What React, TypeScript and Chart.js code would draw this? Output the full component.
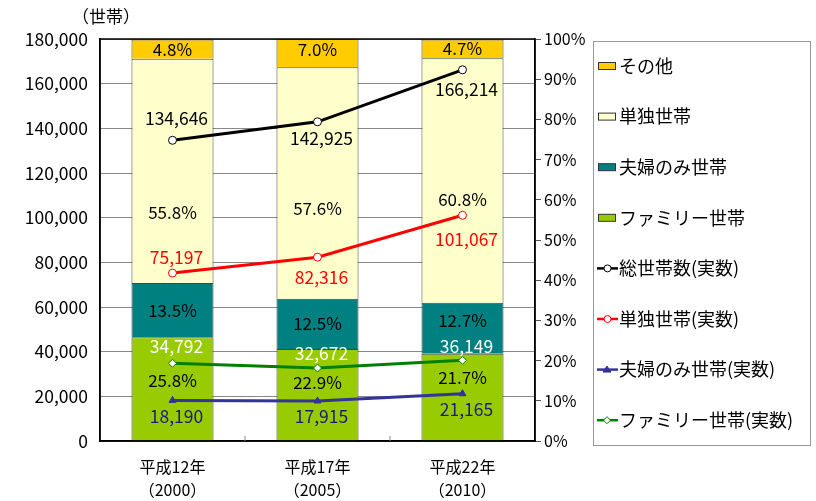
import React, { useEffect, useRef } from "react";
import { Chart, registerables } from "chart.js";

Chart.register(...registerables);

const categories = [
  ["平成12年", "（2000）"],
  ["平成17年", "（2005）"],
  ["平成22年", "（2010）"],
];
const familyPct = [25.8, 22.9, 21.7];
const couplePct = [13.5, 12.5, 12.7];
const singlePct = [55.8, 57.6, 60.8];
const otherPct = [4.8, 7.0, 4.7];

const totalHouseholds = [134646, 142925, 166214];
const singleHouseholds = [75197, 82316, 101067];
const coupleHouseholds = [18190, 17915, 21165];
const familyHouseholds = [34792, 32672, 36149];

const FONT = "'Noto Sans CJK JP', 'Noto Sans', sans-serif";

// style-only: vertical offsets of labels (px)
const pctLabelDy: Record<string, number[]> = {
  family: [-8, -12, -20],
  couple: [0, 0, -8],
  single: [42, 26, 19],
  other: [0, -4, 0],
};
const lineLabelDy: Record<string, number[]> = {
  total: [-22, 17, 20],
  single: [-16, 20, 24],
  family: [-17, -15, -14],
  couple: [16, 15, 16],
};

const fmt = (n: number) => n.toLocaleString("en-US");

export default function App() {
  const ref = useRef<HTMLCanvasElement>(null);

  useEffect(() => {
    document.body.style.margin = "0";
    const canvas = ref.current!;

    const labelPlugin = {
      id: "customLabels",
      afterDatasetsDraw(chart: any) {
        const ctx = chart.ctx;
        ctx.save();
        ctx.textAlign = "center";
        ctx.textBaseline = "middle";
        chart.data.datasets.forEach((ds: any, di: number) => {
          const meta = chart.getDatasetMeta(di);
          meta.data.forEach((el: any, i: number) => {
            const v = ds.data[i];
            if (ds.type === "bar") {
              const cy = (el.y + el.base) / 2 + (pctLabelDy[ds.key]?.[i] || 0);
              ctx.font = `17px ${FONT}`;
              ctx.fillStyle = "#000";
              ctx.fillText(v.toFixed(1) + "%", el.x, cy);
            } else {
              ctx.font = `17.5px ${FONT}`;
              ctx.fillStyle = ds.labelColor;
              ctx.fillText(fmt(v), el.x + 4, el.y + (lineLabelDy[ds.key]?.[i] || 0));
            }
          });
        });
        ctx.restore();
      },
      afterDraw(chart: any) {
        const ctx = chart.ctx;
        const a = chart.chartArea;
        ctx.save();
        // plot border
        ctx.strokeStyle = "#000";
        ctx.lineWidth = 1.5;
        ctx.strokeRect(a.left, a.top, a.right - a.left, a.bottom - a.top);
        // inner category ticks
        const xs = chart.scales.x;
        ctx.lineWidth = 1;
        ctx.strokeStyle = "#888";
        for (let i = 0; i < categories.length - 1; i++) {
          const x = (xs.getPixelForValue(i) + xs.getPixelForValue(i + 1)) / 2;
          ctx.beginPath();
          ctx.moveTo(x, a.bottom - 5);
          ctx.lineTo(x, a.bottom);
          ctx.stroke();
        }
        // axis title
        ctx.fillStyle = "#000";
        ctx.font = `17px ${FONT}`;
        ctx.textAlign = "center";
        ctx.textBaseline = "middle";
        ctx.fillText("（世帯）", 106, 17);

        // legend
        const lx = 593, ly = 41, lw = 217, lh = 404;
        ctx.strokeStyle = "#999";
        ctx.lineWidth = 1;
        ctx.strokeRect(lx + 0.5, ly + 0.5, lw, lh);
        const items: any[] = [
          { t: "その他", bar: "#FFCC00" },
          { t: "単独世帯", bar: "#FFFFCC" },
          { t: "夫婦のみ世帯", bar: "#008080" },
          { t: "ファミリー世帯", bar: "#99CC00" },
          { t: "総世帯数(実数)", line: "#000000", pt: "circle" },
          { t: "単独世帯(実数)", line: "#FF0000", pt: "circle" },
          { t: "夫婦のみ世帯(実数)", line: "#333399", pt: "triangle" },
          { t: "ファミリー世帯(実数)", line: "#008000", pt: "rectRot" },
        ];
        items.forEach((it, i) => {
          const y = 66 + i * 50.6;
          if (it.bar) {
            ctx.fillStyle = it.bar;
            ctx.fillRect(598, y - 3.5, 17, 7);
            ctx.strokeStyle = "#333";
            ctx.lineWidth = 1;
            ctx.strokeRect(598.5, y - 3.5, 17, 7);
          } else {
            ctx.strokeStyle = it.line;
            ctx.lineWidth = 2.5;
            ctx.beginPath();
            ctx.moveTo(597, y);
            ctx.lineTo(618, y);
            ctx.stroke();
            ctx.lineWidth = 1;
            ctx.fillStyle = it.pt === "triangle" ? it.line : "#fff";
            ctx.beginPath();
            if (it.pt === "triangle") {
              ctx.moveTo(607, y - 3.5);
              ctx.lineTo(611, y + 2.5);
              ctx.lineTo(603, y + 2.5);
              ctx.closePath();
            } else if (it.pt === "rectRot") {
              ctx.moveTo(607, y - 3.5);
              ctx.lineTo(610.5, y);
              ctx.lineTo(607, y + 3.5);
              ctx.lineTo(603.5, y);
              ctx.closePath();
            } else {
              ctx.arc(607.5, y, 3.5, 0, Math.PI * 2);
            }
            ctx.fill();
            ctx.stroke();
          }
          ctx.fillStyle = "#000";
          ctx.font = `18px ${FONT}`;
          ctx.textAlign = "left";
          ctx.textBaseline = "middle";
          ctx.fillText(it.t, 619, y);
        });
        ctx.restore();
      },
    };

    const barDs = (key: string, label: string, data: number[], color: string) => ({
      type: "bar" as const,
      key,
      label,
      data,
      backgroundColor: color,
      borderColor: "#444",
      borderWidth: 1,
      yAxisID: "y2",
      stack: "pct",
      order: 2,
      categoryPercentage: 1,
      barPercentage: 0.566,
    });
    const lineDs = (
      key: string,
      label: string,
      data: number[],
      color: string,
      pointStyle: string,
      pointBg: string,
      labelColor: string
    ) => ({
      type: "line" as const,
      key,
      label,
      data,
      borderColor: color,
      borderWidth: 3,
      pointStyle,
      pointRadius: 4,
      pointBackgroundColor: pointBg,
      pointBorderColor: color,
      pointBorderWidth: 1,
      tension: 0,
      yAxisID: "y",
      order: 0,
      labelColor,
    });

    const chart = new Chart(canvas, {
      data: {
        labels: categories,
        datasets: [
          barDs("family", "ファミリー世帯", familyPct, "#99CC00"),
          barDs("couple", "夫婦のみ世帯", couplePct, "#008080"),
          barDs("single", "単独世帯", singlePct, "#FFFFCC"),
          barDs("other", "その他", otherPct, "#FFCC00"),
          lineDs("total", "総世帯数(実数)", totalHouseholds, "#000000", "circle", "#ffffff", "#000000"),
          lineDs("single", "単独世帯(実数)", singleHouseholds, "#FF0000", "circle", "#ffffff", "#FF0000"),
          lineDs("couple", "夫婦のみ世帯(実数)", coupleHouseholds, "#333399", "triangle", "#333399", "#1a1a80"),
          lineDs("family", "ファミリー世帯(実数)", familyHouseholds, "#008000", "rectRot", "#ffffff", "#ffffff"),
        ] as any,
      },
      options: {
        responsive: false,
        animation: false,
        layout: { padding: { left: 0, right: 226, top: 39, bottom: 0 } },
        plugins: { legend: { display: false }, tooltip: { enabled: false } },
        scales: {
          x: {
            stacked: true,
            offset: true,
            grid: { display: false },
            border: { display: true, color: "#000", width: 1.5 },
            ticks: {
              color: "#000",
              font: { family: FONT, size: 16, lineHeight: 1.4 },
              padding: 7,
              maxRotation: 0,
            },
            afterFit: (s: any) => {
              s.height = 60;
            },
          },
          y: {
            position: "left",
            min: 0,
            max: 180000,
            ticks: {
              stepSize: 20000,
              color: "#000",
              font: { family: FONT, size: 17.5 },
              padding: 12,
              callback: (v: any) => fmt(Number(v)),
            },
            grid: { color: "#888", lineWidth: 1, drawTicks: false },
            border: { display: true, color: "#000", width: 1.5 },
            afterFit: (s: any) => {
              s.width = 100;
            },
          },
          y2: {
            position: "right",
            stacked: true,
            min: 0,
            max: 100,
            ticks: {
              stepSize: 10,
              color: "#000",
              font: { family: FONT, size: 16 },
              padding: 3,
              callback: (v: any) => v + "%",
            },
            grid: { drawOnChartArea: false, tickLength: 6, color: "#555" },
            border: { display: true, color: "#000", width: 1.5 },
            afterFit: (s: any) => {
              s.width = 55;
            },
          },
        },
      } as any,
      plugins: [labelPlugin],
    });
    return () => chart.destroy();
  }, []);

  return (
    <div style={{ width: 816, height: 501, background: "#fff" }}>
      <canvas ref={ref} width={816} height={501} />
    </div>
  );
}
